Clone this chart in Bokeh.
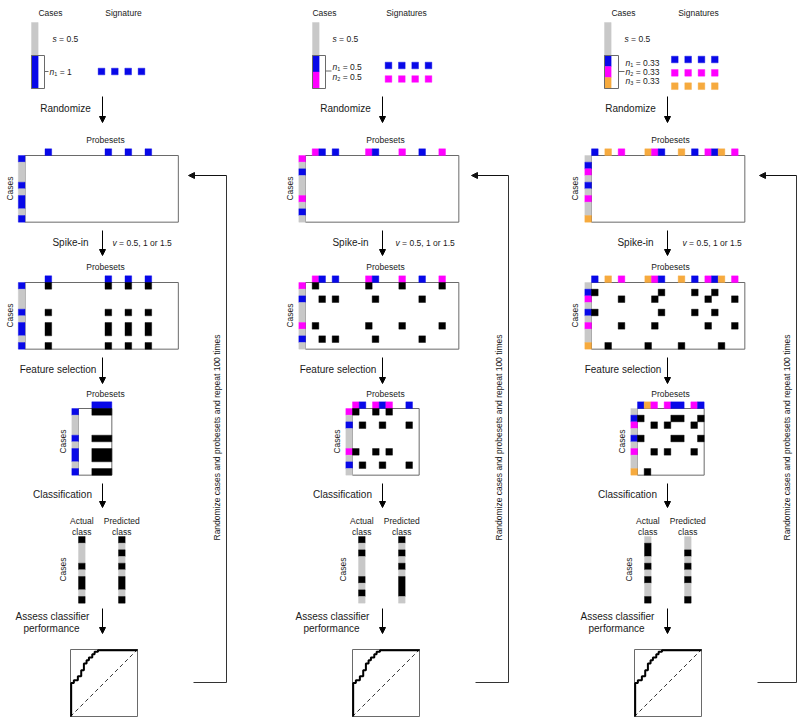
import math
from bokeh.plotting import figure
from bokeh.models import Range1d, Arrow, NormalHead
from bokeh.core.properties import value
from bokeh.embed import file_html
from bokeh.resources import INLINE

# ---------------- data ----------------
N_CASES = 10
N_PROBES = 23
S_FRACTION = 0.5
SIG_LEN = 4

# panel 1 : one signature
classes_1 = ["blue"]
n_values_1 = ["1"]
rand_rows_1 = {"blue": [0, 4, 6, 7, 9]}
case_rows_1 = {"blue": [0, 4, 6, 7, 9]}
probe_cols_1 = {"blue": [3, 12, 15, 18]}
fs_cols_1 = {"blue": [2, 3, 4]}
actual_1 = [0, 4, 6, 7, 9]
predicted_1 = [0, 2, 4, 6, 7, 9]

# panel 2 : two signatures
classes_2 = ["blue", "magenta"]
n_values_2 = ["0.5", "0.5"]
rand_rows_2 = {"magenta": [0, 6], "blue": [2, 8]}
case_rows_2 = {"magenta": [0, 6], "blue": [2, 8]}
probe_cols_2 = {"magenta": [1, 9, 14, 20], "blue": [2, 4, 10, 17]}
fs_cols_2 = {"magenta": [0, 3, 5], "blue": [1, 4, 8]}
actual_2 = [0, 2, 6, 8]
predicted_2 = [0, 2, 4, 6, 7, 8]

# panel 3 : three signatures
classes_3 = ["blue", "magenta", "orange"]
n_values_3 = ["0.33", "0.33", "0.33"]
rand_rows_3 = {"blue": [1, 4], "magenta": [2, 6], "orange": [9]}
case_rows_3 = {"blue": [1, 4], "magenta": [2, 6], "orange": [9]}
probe_cols_3 = {"blue": [0, 10, 15, 18], "magenta": [4, 9, 17, 21], "orange": [2, 8, 13, 19]}
fs_cols_3 = {"blue": [0, 5, 6, 9], "orange": [1], "magenta": [2, 4, 8]}
actual_3 = [1, 2, 4, 6, 9]
predicted_3 = [2, 4, 6, 9]

# ROC staircase (false positive rate, true positive rate)
roc_fpr = [0.01, 0.01, 0.05, 0.05, 0.11, 0.11, 0.16, 0.16, 0.20, 0.20, 0.24, 0.24,
           0.275, 0.275, 0.325, 0.325, 0.36, 0.36, 0.41, 0.41, 1.0]
roc_tpr = [0.0, 0.5, 0.5, 0.54, 0.54, 0.6, 0.6, 0.69, 0.69, 0.79, 0.79, 0.84,
           0.84, 0.88, 0.88, 0.93, 0.93, 0.965, 0.965, 0.99, 0.99]

step_labels = ["Randomize", "Spike-in", "Feature selection", "Classification"]
assess_label = ["Assess classifier", "performance"]
loop_label = "Randomize cases and probesets and repeat 100 times"
spike_label = "= 0.5, 1 or 1.5"

# ---------------- styles / layout ----------------
COLORS = {"blue": "#0808e8", "magenta": "#ff00ff", "orange": "#f6aa3e"}
GRAY = "#c8c8c8"
BLACK = "#000000"
TEXT = "#1a1a1a"
FRAME = "#6a6a6a"
FONT = value("Liberation Sans")
C = 20.0 / 3.0  # cell size (px)
W, H = 798, 720

panels = [
    dict(classes=classes_1, nvals=n_values_1, rand=rand_rows_1, rows=case_rows_1, probes=probe_cols_1,
         fs=fs_cols_1, actual=actual_1, pred=predicted_1, sig_title="Signature",
         ax=102, cases_lx=50, sig_lx=123, bar_x=31, brk_r=44, s_x=52, n_x=49, dash_y=71,
         n_y=[71], sig_x0=101, sig_y=[71], mat_x=24.5, fs_x=78, fs_n=5, act_x=78, pred_x=118,
         roc_x=70, loop_x=226, loop_tip=188, loop_x0=193, loop_tx=216, rot_x=9, v_x=112),
    dict(classes=classes_2, nvals=n_values_2, rand=rand_rows_2, rows=case_rows_2, probes=probe_cols_2,
         fs=fs_cols_2, actual=actual_2, pred=predicted_2, sig_title="Signatures",
         ax=382, cases_lx=324, sig_lx=406, bar_x=312, brk_r=325, s_x=332, n_x=332, dash_y=70.5,
         n_y=[66, 76], sig_x0=388, sig_y=[65, 78.5], mat_x=305, fs_x=352, fs_n=10, act_x=358, pred_x=398,
         roc_x=352, loop_x=508, loop_tip=471, loop_x0=475, loop_tx=498, rot_x=289, v_x=395),
    dict(classes=classes_3, nvals=n_values_3, rand=rand_rows_3, rows=case_rows_3, probes=probe_cols_3,
         fs=fs_cols_3, actual=actual_3, pred=predicted_3, sig_title="Signatures",
         ax=667, cases_lx=623, sig_lx=698, bar_x=604, brk_r=618, s_x=624, n_x=625, dash_y=71,
         n_y=[62, 71, 80], sig_x0=674.3, sig_y=[59, 72.3, 85.7], mat_x=591, fs_x=637, fs_n=10, act_x=644,
         pred_x=684, roc_x=634, loop_x=796, loop_tip=759, loop_x0=757, loop_tx=786, rot_x=574, v_x=682),
]

p = figure(width=W, height=H, x_range=Range1d(0, W), y_range=Range1d(H, 0),
           output_backend="svg", toolbar_location=None, min_border=0,
           x_axis_location=None, y_axis_location=None)
p.grid.visible = False
p.outline_line_color = None
p.background_fill_color = "white"
p.border_fill_color = "white"

frames = dict(left=[], right=[], top=[], bottom=[])
cells = dict(left=[], right=[], top=[], bottom=[], color=[])
outlines = dict(left=[], right=[], top=[], bottom=[])
grids = {}  # (x0, y0) -> {(col, row): color}


def add(d, l, r, t, b, color=None):
    d["left"].append(l); d["right"].append(r); d["top"].append(t); d["bottom"].append(b)
    if color is not None:
        d["color"].append(color)


def cell(x0, y0, col, row, color):
    grids.setdefault((x0, y0), {})[(col, row)] = color


def flush_grids():
    # merge touching cells of equal colour into larger rectangles (no seams)
    for (x0, y0), g in grids.items():
        runs = {}  # row -> list of (c0, c1, color)
        rows = sorted({r for (_, r) in g})
        for r in rows:
            cols = sorted(c for (c, rr) in g if rr == r)
            cur = None
            for c in cols:
                col = g[(c, r)]
                if cur and cur[1] == c and cur[2] == col:
                    cur[1] = c + 1
                else:
                    if cur:
                        runs.setdefault(r, []).append(tuple(cur))
                    cur = [c, c + 1, col]
            if cur:
                runs.setdefault(r, []).append(tuple(cur))
        used = set()
        for r in rows:
            for run in runs.get(r, []):
                if (r, run) in used:
                    continue
                r1 = r + 1
                while run in runs.get(r1, []) and (r1, run) not in used:
                    used.add((r1, run))
                    r1 += 1
                add(cells, x0 + run[0] * C, x0 + run[1] * C, y0 + r * C, y0 + r1 * C, run[2])


def txt(x, y, s, size=8.5, align="center", style="normal", angle=0.0):
    p.text(x=[x], y=[y], text=[s], text_font=FONT, text_font_size=value(f"{size}px"),
           text_align=align, text_baseline="middle", text_font_style=style, angle=angle,
           text_color=TEXT)


def arrow(x0, y0, x1, y1, color="black"):
    p.add_layout(Arrow(end=NormalHead(size=6, fill_color=color, line_color=color, line_width=1),
                       x_start=x0, y_start=y0, x_end=x1, y_end=y1, line_color=color, line_width=1))


def case_column(x, y0, rowmap):
    colored = {}
    for cls, rows in rowmap.items():
        for r in rows:
            colored[r] = COLORS[cls]
    for r in range(N_CASES):
        cell(x, y0, 0, r, colored.get(r, GRAY))


MAT_Y = [155, 282, 408, 536]
ARROW_Y = [(96, 122), (230, 255), (357, 383), (483, 507), (608, 633)]
LABEL_DX = [-37, -32, -44.5, -40]
ROC_Y = 649
ROC_S = 67

for P in panels:
    ax = P["ax"]
    # ---- header ----
    txt(P["cases_lx"], 12, "Cases")
    txt(P["sig_lx"], 12, P["sig_title"])
    top_h = 66 * S_FRACTION
    add(cells, P["bar_x"], P["bar_x"] + C, 22, 22 + top_h, GRAY)
    k = len(P["classes"])
    seg = (66 - top_h) / k
    for i, cls in enumerate(P["classes"]):
        add(cells, P["bar_x"], P["bar_x"] + C, 55 + i * seg, 55 + (i + 1) * seg, COLORS[cls])
    add(outlines, P["bar_x"], P["brk_r"], 55, 88)
    p.line(x=[P["brk_r"], P["n_x"] - 1], y=[P["dash_y"], P["dash_y"]], line_color=FRAME, line_width=1)
    txt(P["s_x"], 38, "s", style="italic", align="left")
    txt(P["s_x"] + 6.6, 38, "= " + str(S_FRACTION), align="left")
    for i, nv in enumerate(P["nvals"]):
        y = P["n_y"][i]
        txt(P["n_x"], y, "n", style="italic", align="left")
        txt(P["n_x"] + 4.8, y + 2.2, str(i + 1), size=5.5, align="left")
        txt(P["n_x"] + 10.2, y, "= " + nv, align="left")
    for i, cls in enumerate(P["classes"]):
        for j in range(SIG_LEN):
            cx = P["sig_x0"] + j * 2 * C
            cy = P["sig_y"][i]
            add(cells, cx - C / 2, cx + C / 2, cy - C / 2, cy + C / 2, COLORS[cls])

    # ---- step labels & arrows ----
    for i, (y0, y1) in enumerate(ARROW_Y):
        arrow(ax, y0, ax, y1)
    for i, lab in enumerate(step_labels):
        yc = (ARROW_Y[i][0] + ARROW_Y[i][1]) / 2 - 1
        txt(ax + LABEL_DX[i], yc, lab, size=10)
    txt(ax - 50, 616, assess_label[0], size=10)
    txt(ax - 51, 628, assess_label[1], size=10)
    txt(P["v_x"], 242, "v", style="italic", align="left")
    txt(P["v_x"] + 6.6, 242, spike_label, align="left")

    # ---- randomized + spike-in matrices ----
    for m, y0 in enumerate(MAT_Y[:2]):
        mx = P["mat_x"]
        txt(ax + 3, y0 - 16, "Probesets")
        txt(P["rot_x"], y0 + 33, "Cases", angle=math.pi / 2)
        add(frames, mx, mx + N_PROBES * C, y0, y0 + N_CASES * C)
        case_column(mx - C, y0, P["rand"] if m == 0 else P["rows"])
        for cls, cols in P["probes"].items():
            for c in cols:
                cell(mx, y0 - C, c, 0, COLORS[cls])
        if m == 1:
            for cls, rows in P["rows"].items():
                for r in rows:
                    for c in P["probes"][cls]:
                        cell(mx, y0 + 0.001, c, r, BLACK)

    # ---- feature-selected matrix ----
    y0 = MAT_Y[2]
    fx = P["fs_x"]
    txt(ax + 3, y0 - 15, "Probesets")
    txt(fx - 16, y0 + 33, "Cases", angle=math.pi / 2)
    add(frames, fx, fx + P["fs_n"] * C, y0, y0 + N_CASES * C)
    case_column(fx - C, y0, P["rows"])
    for cls, cols in P["fs"].items():
        for c in cols:
            cell(fx, y0 - C, c, 0, COLORS[cls])
            for r in P["rows"][cls]:
                cell(fx, y0 + 0.001, c, r, BLACK)

    # ---- classification columns ----
    y0 = MAT_Y[3]
    txt(P["act_x"] + 3.3, 520, "Actual")
    txt(P["act_x"] + 3.3, 531, "class")
    txt(P["pred_x"] + 3.3, 520, "Predicted")
    txt(P["pred_x"] + 3.3, 531, "class")
    txt(P["act_x"] - 16, y0 + 33, "Cases", angle=math.pi / 2)
    for colx, rows in ((P["act_x"], P["actual"]), (P["pred_x"], P["pred"])):
        for r in range(N_CASES):
            cell(colx, y0, 0, r, BLACK if r in rows else GRAY)

    # ---- ROC ----
    rx = P["roc_x"]
    add(outlines, rx, rx + ROC_S, ROC_Y, ROC_Y + ROC_S)
    p.line(x=[rx, rx + ROC_S], y=[ROC_Y + ROC_S, ROC_Y], line_color=BLACK, line_width=0.8,
           line_dash="4 3")
    p.line(x=[rx + f * ROC_S for f in roc_fpr], y=[ROC_Y + ROC_S - t * ROC_S for t in roc_tpr],
           line_color=BLACK, line_width=2)

    # ---- repeat loop ----
    lx = P["loop_x"]
    p.line(x=[P["loop_x0"], lx, lx], y=[682, 682, 175], line_color="#333333", line_width=1)
    arrow(lx, 175, P["loop_tip"], 175, color="#111111")
    txt(P["loop_tx"], 437, loop_label, angle=math.pi / 2)

flush_grids()

p.quad(left="left", right="right", top="top", bottom="bottom", source=frames,
       fill_color="white", line_color=FRAME, line_width=1)
p.quad(left="left", right="right", top="top", bottom="bottom", fill_color="color", source=cells,
       line_color="color", line_width=0.4)
p.quad(left="left", right="right", top="top", bottom="bottom", source=outlines,
       fill_color=None, line_color=FRAME, line_width=1)

# draw the quads first, then lines and texts
quads = p.renderers[-3:]
p.renderers = quads + p.renderers[:-3]

open("out.html", "w").write(file_html(p, INLINE))
